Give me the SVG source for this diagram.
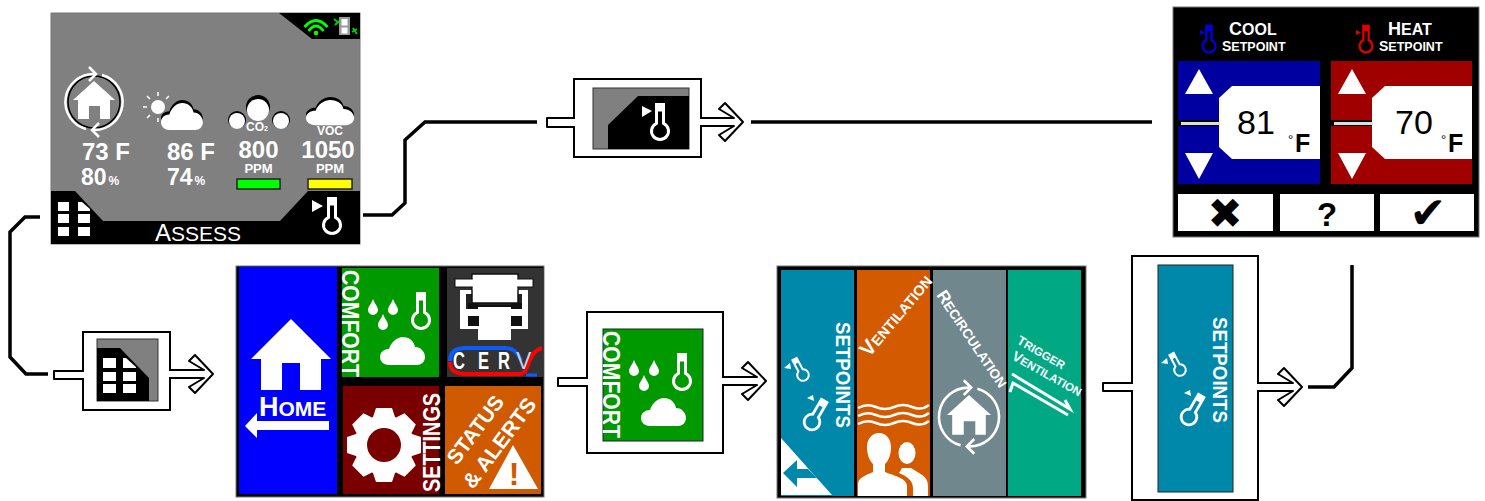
<svg xmlns="http://www.w3.org/2000/svg" width="1485" height="501" viewBox="0 0 1485 501">
<style>
text{font-family:"Liberation Sans",Arial,sans-serif;fill:#fff}
.b{font-weight:bold}
.k{fill:#000}
.d{fill:#000}
text.d{fill:#000}
.frame{fill:#fff;stroke:#000;stroke-width:2}
.line{fill:none;stroke:#000;stroke-width:3.5}
.hollow{fill:#fff;stroke:#000;stroke-width:2;stroke-linejoin:round}
.w{fill:#fff}
.scr{stroke:#777;stroke-width:1}
</style>
<defs>
<g id="th"><path d="M-3.5 -26.5H3.5V-7.7A8.5 8.5 0 1 1 -3.5 -7.7Z" fill="none" stroke="currentColor" stroke-width="3"/><rect x="-3.5" y="-26.5" width="7" height="7" fill="currentColor"/></g>
<path id="cloud" d="M9 28C3 28 0 24 0 20C0 15 4 12 9 12C11 5 17 0 23 0C29 0 34 4 35 10C41 10 45 15 45 20C45 25 41 28 37 28Z"/>
<path id="drop" d="M0 -8C2 -3 5 0 5 3A5 5 0 1 1 -5 3C-5 0 -2 -3 0 -8Z" fill="#fff"/>
<g id="comfortIcon" color="#fff">
<text transform="translate(342 270) rotate(90)" class="b" font-size="23" textLength="107" lengthAdjust="spacingAndGlyphs">COMFORT</text>
<use href="#drop" x="373" y="307"/><use href="#drop" x="393" y="307"/><use href="#drop" x="383" y="322"/>
<use href="#th" transform="translate(421 320)"/>
<use href="#cloud" transform="translate(380 337)" fill="#fff"/>
</g>
<g id="cycle">
<path d="M8 -27A28 28 0 0 1 0 28M-8 27A28 28 0 0 1 0 -28" fill="none" stroke="#fff" stroke-width="2.5"/>
<path d="M-5 -35L2 -28L-5 -21M5 35L-2 28L5 21" fill="none" stroke="#fff" stroke-width="2.5"/>
<path d="M0 -21L21 -2H16V17H6V4H-5V17H-16V-2H-21Z" fill="#fff"/>
</g>
<g id="setpointsIcon" color="#fff">
<text transform="translate(836 322) rotate(90)" class="b" font-size="21" textLength="106" lengthAdjust="spacingAndGlyphs">SETPOINTS</text>
<use href="#th" transform="translate(803 375) rotate(-28) scale(.68)"/>
<path d="M784 368L790 363L791 369Z" fill="#fff"/>
<use href="#th" transform="translate(812 422) rotate(30) scale(.92)"/>
<path d="M807 398L813 395L814 401Z" fill="#fff"/>
</g>
</defs>

<g id="assess-screen">
<rect x="51" y="13" width="309" height="231" fill="#808080" class="scr"/>
<path d="M279 13H360V39H312Z" class="k"/>
<path d="M51 191H75L103 221H280L308 191H360V244H51Z" class="k"/>
<path d="M304.500 27Q316 14 327.500 27M308.500 31Q316 21 323.500 31" fill="none" stroke="#0f0" stroke-width="2.800"/>
<circle cx="316" cy="33" r="2.300" fill="#0f0"/>
<rect x="339" y="17" width="11" height="18" fill="#999"/>
<rect x="341.500" y="19" width="6" height="6.500" fill="#fff"/><rect x="341.500" y="27.500" width="6" height="6" fill="#fff"/>
<path d="M334 19L339 23M335 25L339 21M352 32L357 29M353 28L357 34" stroke="#0c0" stroke-width="2"/>
<circle cx="94" cy="102" r="26" fill="none" stroke="#000" stroke-width="1.500"/>
<use href="#cycle" transform="translate(94 102)"/>
<circle cx="158" cy="107" r="7" fill="#fff"/>
<path d="M158 92V96M147 96L150 99M169 96L166 99M143 107H147M147 118L150 115M158 118V122" stroke="#fff" stroke-width="1.500"/>
<use href="#cloud" transform="translate(161 100) scale(.93)" fill="#000"/>
<use href="#cloud" transform="translate(161 103) scale(.93 .96)" fill="#fff"/>
<circle cx="237" cy="120" r="9" fill="#000"/><circle cx="281" cy="120" r="9" fill="#000"/><circle cx="258" cy="107" r="12" fill="#000"/>
<circle cx="237" cy="121" r="8" fill="#fff"/><circle cx="281" cy="121" r="8" fill="#fff"/><circle cx="258" cy="110" r="11" fill="#fff"/>
<use href="#cloud" transform="translate(306 97) scale(1.07 .9)" fill="#000"/>
<use href="#cloud" transform="translate(306 100) scale(1.07 .9)" fill="#fff"/>
<text x="246" y="131" class="b" font-size="12">CO<tspan font-size="7">2</tspan></text>
<text x="330" y="135" class="b" font-size="12" text-anchor="middle">VOC</text>
<text x="82" y="160" class="b" font-size="24">73 F</text>
<text x="81" y="185" class="b" font-size="23">80<tspan font-size="12" dx="2">%</tspan></text>
<text x="167" y="160" class="b" font-size="24">86 F</text>
<text x="167" y="185" class="b" font-size="23">74<tspan font-size="12" dx="2">%</tspan></text>
<text x="258.500" y="158" class="b" font-size="24" text-anchor="middle">800</text>
<text x="258.500" y="173" class="b" font-size="13" text-anchor="middle">PPM</text>
<text x="328" y="158" class="b" font-size="24" text-anchor="middle">1050</text>
<text x="330" y="173" class="b" font-size="13" text-anchor="middle">PPM</text>
<rect x="237" y="179" width="43" height="10" fill="#0f0" stroke="#222" stroke-width="1.500"/>
<rect x="308" y="179" width="44" height="10" fill="#ff0" stroke="#222" stroke-width="1.500"/>
<path class="w" d="M58 202H69V211H58ZM78 202H82L90 209V211H78ZM58 214H69V223H58ZM78 214H90V223H78ZM58 227H69V236H58ZM78 227H90V236H78Z"/>
<path class="w" d="M312 200V212L323 206Z"/>
<use href="#th" transform="translate(332 225)" color="#fff"/>
<text x="155" y="241" font-size="24">A<tspan font-size="21">SSESS</tspan></text>
</g>

<g id="assess-nav-box">
<rect x="83" y="332" width="87" height="78" class="frame"/>
<rect x="97" y="339" width="61" height="62" fill="#808080" stroke="#333"/>
<path d="M97 348H120L149 378V401H97Z" class="k"/>
<path class="w" d="M103 358H116V368H103ZM123 358H126L136 367V368H123ZM103 372H116V381H103ZM123 372H136V381H123ZM103 384H116V393H103ZM123 384H136V393H123Z"/>
</g>

<g id="setpoint-nav-box">
<rect x="574" y="79" width="127" height="78" class="frame"/>
<rect x="593" y="88" width="96" height="61" fill="#808080" stroke="#333"/>
<path d="M608 149V125L638 96H689V149Z" class="k"/>
<path class="w" d="M642 106V117L652 111Z"/>
<use href="#th" transform="translate(660 131)" color="#fff"/>
</g>

<g id="setpoint-screen">
<rect x="1173" y="7" width="306" height="230" class="k scr"/>
<use href="#th" transform="translate(1209 46) scale(.76)" color="#0000e0"/>
<path d="M1200 30L1205 32.500L1200 35Z" fill="#0000e0"/>
<use href="#th" transform="translate(1366 46) scale(.76)" color="#e00000"/>
<path d="M1356 30L1361 32.500L1356 35Z" fill="#e00000"/>
<text x="1229" y="35" class="b" font-size="18">C<tspan font-size="16">OOL</tspan></text>
<text x="1222" y="51" class="b" font-size="14">S<tspan font-size="12.500">ETPOINT</tspan></text>
<text x="1388" y="35" class="b" font-size="18">H<tspan font-size="16">EAT</tspan></text>
<text x="1379" y="51" class="b" font-size="14">S<tspan font-size="12.500">ETPOINT</tspan></text>
<rect x="1178" y="61" width="142" height="123" fill="#0000a0"/>
<rect x="1331" y="61" width="141" height="123" fill="#a00000"/>
<path class="w" d="M1219 98L1232 86H1320V159H1232L1219 147Z"/>
<path class="w" d="M1372 98L1385 86H1472V159H1385L1372 147Z"/>
<rect x="1178" y="120" width="41" height="6" class="k"/><rect x="1331" y="120" width="41" height="6" class="k"/>
<rect x="1181" y="122" width="39" height="3" fill="#ddd"/><rect x="1334" y="122" width="39" height="3" fill="#ddd"/>
<path class="w" d="M1199 69L1185 94H1213ZM1185 153H1213L1199 179ZM1352 69L1338 94H1366ZM1338 153H1366L1352 179Z"/>
<text x="1256" y="134" font-size="34" text-anchor="middle" class="d">81</text>
<text x="1414" y="134" font-size="34" text-anchor="middle" class="d">70</text>
<text x="1288" y="144" font-size="13" class="d">°</text>
<text x="1295" y="152" font-size="25" class="b d">F</text>
<text x="1441" y="144" font-size="13" class="d">°</text>
<text x="1448" y="152" font-size="25" class="b d">F</text>
<rect x="1178" y="194" width="95" height="37" class="w"/>
<rect x="1280" y="194" width="94" height="37" class="w"/>
<rect x="1380" y="194" width="94" height="37" class="w"/>
<text x="1225" y="228" font-size="42" text-anchor="middle" class="d" style="font-family:'DejaVu Sans',sans-serif">✖</text>
<text x="1327" y="226" font-size="33" text-anchor="middle" class="b d">?</text>
<text x="1428" y="228" font-size="44" text-anchor="middle" class="d" style="font-family:'DejaVu Sans',sans-serif">✔</text>
</g>

<g id="main-menu">
<rect x="236" y="266" width="308" height="231" class="k scr"/>
<rect x="239" y="267" width="98" height="227" fill="#00f"/>
<rect x="342" y="268" width="97" height="109" fill="#090"/>
<rect x="447" y="268" width="96" height="109" fill="#333"/>
<rect x="343" y="386" width="96" height="108" fill="#7a0000"/>
<rect x="445" y="386" width="96" height="108" fill="#d05a00"/>
<path class="w" d="M291 319L331 359H321V390H300V363H282V390H261V359H251Z"/>
<text x="259" y="416" class="b" font-size="27">H<tspan font-size="21">OME</tspan></text>
<path class="w" d="M245 426L257 413V421H329V430H257V438Z"/>
<use href="#comfortIcon"/>
<path class="w" d="M460 290H528V329H511V340H478V329H460Z"/>
<rect x="466" y="294" width="56" height="15" fill="#222"/>
<rect x="478" y="306" width="33" height="12" class="w" />
<path d="M478 306H511" stroke="#111" stroke-width="2"/>
<rect x="468" y="303" width="10" height="6" fill="#111"/><rect x="511" y="303" width="11" height="6" fill="#111"/>
<rect x="472" y="274" width="46" height="29" class="w" stroke="#111" stroke-width="1.500"/>
<rect x="455" y="279" width="78" height="8" class="w" stroke="#111" stroke-width="1"/>
<rect x="472.800" y="276" width="44.400" height="14" class="w"/>
<path d="M468 316H479V326H468ZM511 316H522V326H511Z" fill="#111"/>
<path d="M450 361C450 351 457 348 466 348H505C514 348 518 353 521 360" fill="none" stroke="#0a5cff" stroke-width="4"/>
<path d="M450 362C450 372 457 374 466 374H520C530 374 526 353 542 348" fill="none" stroke="#f00" stroke-width="4"/>
<path d="M526 375H537" stroke="#0a5cff" stroke-width="3"/>
<text transform="translate(453 369) scale(.72 1)" class="b" font-size="23">C</text>
<text transform="translate(478 369) scale(.72 1)" class="b" font-size="23">E</text>
<text transform="translate(498 369) scale(.72 1)" class="b" font-size="23">R</text>
<text transform="translate(516 369)" font-size="23" style="fill:#cfd0e6">V</text>
<g class="w" transform="translate(384 445)">
<circle r="30"/>
<g id="teeth"><path d="M-11 -28L-8 -37H8L11 -28ZM-11 28L-8 37H8L11 28ZM-28 -11L-37 -8V8L-28 11ZM28 -11L37 -8V8L28 11Z"/></g>
<use href="#teeth" transform="rotate(45)"/>
<circle r="17" fill="#7a0000"/>
</g>
<text transform="translate(440 492) rotate(-90)" class="b" font-size="23" textLength="99" lengthAdjust="spacingAndGlyphs">SETTINGS</text>
<text transform="translate(457 466) rotate(-53)" class="b" font-size="21" textLength="80" lengthAdjust="spacingAndGlyphs">STATUS</text>
<text transform="translate(473 490) rotate(-53)" class="b" font-size="21" textLength="107" lengthAdjust="spacingAndGlyphs">&amp; ALERTS</text>
<path class="w" d="M513 445L538 489H489Z"/>
<text x="514" y="485" class="b" font-size="32" text-anchor="middle" style="fill:#d05a00">!</text>
</g>

<g id="comfort-box">
<rect x="587" y="312" width="136" height="141" class="frame"/>
<rect x="603" y="329" width="100" height="112" fill="#090" stroke="#222"/>
<use href="#comfortIcon" transform="translate(261 61)"/>
</g>

<g id="comfort-menu">
<rect x="777" y="266" width="309" height="232" class="k scr"/>
<rect x="781" y="270" width="73" height="226" fill="#0088aa"/>
<rect x="857" y="270" width="73" height="226" fill="#d45a00"/>
<rect x="933" y="270" width="73" height="226" fill="#70878e"/>
<rect x="1008" y="270" width="73" height="226" fill="#00a883"/>
<use href="#setpointsIcon"/>
<path class="w" d="M781 438L832 495H781Z"/>
<path d="M783 473L797 460V469H808L817 478H797V487Z" fill="#0088aa"/>
<text transform="translate(869 358) rotate(-50)" class="b" font-size="21">V<tspan font-size="14.500">ENTILATION</tspan></text>
<path d="M858 408Q867 403 876 407T894 407T912 407T929 405M858 416Q867 411 876 415T894 415T912 415T929 413M858 424Q867 419 876 423T894 423T912 423T929 421" fill="none" stroke="#fff" stroke-width="2.500"/>
<path class="w" d="M858 496V484C858 478 866 475 873 472V464C869 460 867 454 867 447C867 439 872 433 879 433C886 433 891 439 891 447C891 454 889 460 885 464V472C892 475 907 478 907 486V496Z"/>
<ellipse cx="907" cy="453" rx="8.500" ry="11" class="w"/>
<path class="w" d="M911 468C920 474 928 476 928 486V496H913V488C913 480 906 476 899 473L902 468Z"/>
<text transform="translate(936 295) rotate(56)" class="b" font-size="17">R<tspan font-size="13.500">ECIRCULATION</tspan></text>
<use href="#cycle" transform="translate(969 417) scale(1.05)"/>
<text transform="translate(1016 343) rotate(30)" class="b" font-size="13">T<tspan font-size="11.500">RIGGER</tspan></text>
<text transform="translate(1011 359) rotate(29)" class="b" font-size="14">V<tspan font-size="11.500">ENTILATION</tspan></text>
<path d="M1012 374L1070 409L1065 400M1010 392L1013 383L1068 415" fill="none" stroke="#fff" stroke-width="3"/>
</g>

<g id="setpoints-box">
<rect x="1132" y="256" width="126" height="244" class="frame"/>
<rect x="1158" y="265" width="75" height="227" fill="#0088aa" stroke="#222"/>
<use href="#setpointsIcon" transform="translate(377 -5)"/>
</g>

<g id="connectors">
<path class="line" d="M363 215H392L405 203V140L425 122H537"/>
<path class="line" d="M751 122H1152"/>
<path class="line" d="M40 217H25L10 232V357L26 374H48"/>
<path class="line" d="M1352 265V368L1334 387H1308"/>
<path class="hollow" d="M84 371H54V379H84"/>
<path class="hollow" d="M169 370H204L189 361L195 355L213 374L195 393L189 387L204 378H169"/>
<path class="hollow" d="M575 118H547V127H575"/>
<path class="hollow" d="M700 118H734L719 109L725 103L743 122L725 141L719 135L734 126H700"/>
<path class="hollow" d="M588 378H558V386H588"/>
<path class="hollow" d="M722 377H757L742 368L748 362L766 381L748 400L742 394L757 385H722"/>
<path class="hollow" d="M1133 383H1103V391H1133"/>
<path class="hollow" d="M1257 383H1293L1278 374L1284 368L1302 387L1284 406L1278 400L1293 391H1257"/>
</g>
</svg>
